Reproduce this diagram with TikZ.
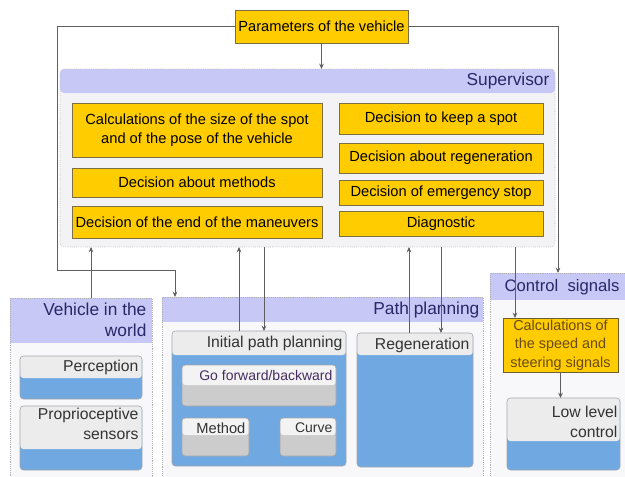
\documentclass[tikz,border=0pt]{standalone}
\usepackage{fontspec}
\setmainfont{Liberation Sans}
\usetikzlibrary{calc,arrows.meta}

\definecolor{hdrblue}{RGB}{200,200,246}
\definecolor{panelbg}{RGB}{248,248,251}
\definecolor{supbg}{RGB}{243,243,246}
\definecolor{boxyel}{RGB}{255,204,0}
\definecolor{yeldraw}{RGB}{125,110,70}
\definecolor{boxblue}{RGB}{112,168,226}
\definecolor{boxtop}{RGB}{236,236,236}
\definecolor{boxlight}{RGB}{243,243,243}
\definecolor{boxgrey}{RGB}{204,204,204}
\definecolor{titlenavy}{RGB}{40,40,105}
\definecolor{linegrey}{RGB}{95,95,95}

\tikzset{
  sz/.style 2 args={minimum width=#1*0.75pt, minimum height=#2*0.75pt},
  panel/.style={draw=gray!60, densely dotted, fill=panelbg, inner sep=0pt, outer sep=0pt,
    path picture={\fill[hdrblue] (path picture bounding box.north west) rectangle ([yshift={-#1*0.75pt}]path picture bounding box.north east);}},
  twotone/.style={draw=gray!70, rounded corners=2.5pt, fill=boxblue, inner sep=0pt, outer sep=0pt,
    path picture={\fill[boxtop] (path picture bounding box.north west) rectangle ([yshift={-#1*0.75pt}]path picture bounding box.north east);}},
  greytone/.style={draw=gray!70, rounded corners=2.5pt, fill=boxgrey, inner sep=0pt, outer sep=0pt,
    path picture={\fill[boxlight] (path picture bounding box.north west) rectangle ([yshift={-#1*0.75pt}]path picture bounding box.north east);}},
  ybox/.style={draw=yeldraw, fill=boxyel, inner sep=0pt, outer sep=0pt, align=center,
    font=\fontsize{11}{14.2}\selectfont},
  ttl/.style={text=titlenavy, inner sep=1pt, align=right, font=\fontsize{13}{15.7}\selectfont},
  lbl/.style={text=black!80, inner sep=1pt, align=right, font=\fontsize{11.8}{15.5}\selectfont},
  arr/.style={draw=linegrey, line width=0.6pt, -{Stealth[length=4pt,width=3.5pt]}}
}

\begin{document}
\begin{tikzpicture}[x=0.75pt,y=0.75pt,yscale=-1,xscale=1]
\useasboundingbox (0,0) rectangle (625,476);
\clip (0,0) rectangle (625,476);

%Shape: Panels
\node[panel=24, sz={495}{178}, fill=supbg, rounded corners=3pt] (sup) at (307.5,158) {};
\node[panel=45, sz={142}{190}] (veh) at (81,393) {};
\node[panel=25, sz={321}{190}] (pp) at (322.5,392) {};
\node[panel=27, sz={150}{215}] (ctrl) at (565,380.5) {};

% Text Node
\node[ttl, anchor=east] (supt) at ($(sup.north east)+(-4,12)$) {Supervisor};
\node[ttl, anchor=east] (veht) at ($(veh.north east)+(-4,22)$) {Vehicle in the\\world};
\node[ttl, anchor=east] (ppt) at ($(pp.north east)+(-2,13)$) {Path planning};
\node[ttl, anchor=west, font=\fontsize{12.5}{15}\selectfont] (ctrlt) at ($(ctrl.north west)+(13,14)$) {Control\ \ signals};

%Shape: Parameters
\node[ybox, sz={173}{33}] (par) at (321.5,26.5) {Parameters of the vehicle};

%Shape: Supervisor boxes
\node[ybox, sz={250}{54}] (cspot) at (197,130) {Calculations of the size of the spot\\and of the pose of the vehicle};
\node[ybox, sz={250}{29}] (dmeth) at (197,182.5) {Decision about methods};
\node[ybox, sz={250}{32}] (dend) at (197,222) {Decision of the end of the maneuvers};
\node[ybox, sz={204}{31}] (dkeep) at (441,118.5) {Decision to keep a spot};
\node[ybox, sz={204}{30}] (dregen) at (441,158) {Decision about regeneration};
\node[ybox, sz={204}{25}] (demerg) at (441,192.5) {Decision of emergency stop};
\node[ybox, sz={204}{25}] (diag) at (441,223.5) {Diagnostic};

%Shape: Vehicle in the world
\node[twotone=22, sz={122}{43}] (perc) at (81,377.5) {};
\node[twotone=43, sz={122}{64}] (prop) at (81,438) {};
\node[lbl, anchor=east] (perct) at ($(perc.north east)+(-2,11)$) {Perception};
\node[lbl, anchor=east] (propt) at ($(prop.north east)+(-2,18)$) {Proprioceptive\\sensors};

%Shape: Path planning
\node[twotone=24, sz={174}{135}] (ipp) at (259,398.5) {};
\node[twotone=22, sz={116}{134}] (regen) at (415,400) {};
\node[lbl, anchor=east] (ippt) at ($(ipp.north east)+(-2,12)$) {Initial path planning};
\node[lbl, anchor=east] (regent) at ($(regen.north east)+(-2,12)$) {Regeneration};
\node[greytone=20, sz={154}{41}] (gofb) at (259,385.5) {};
\node[greytone=17, sz={67}{38}] (meth) at (215.5,437) {};
\node[greytone=17, sz={56}{38}] (curve) at (308,437) {};
\node[lbl, anchor=east, text={rgb,255:red,70;green,45;blue,95}, font=\fontsize{10.5}{13}\selectfont] (gofbt) at ($(gofb.north east)+(-2,10)$) {Go forward/backward};
\node[lbl, anchor=east, font=\fontsize{11}{13}\selectfont] (metht) at ($(meth.north east)+(-2,10)$) {Method};
\node[lbl, anchor=east, font=\fontsize{10.5}{13}\selectfont] (curvet) at ($(curve.north east)+(-2,10)$) {Curve};

%Shape: Control signals
\node[ybox, sz={115}{54}, draw={rgb,255:red,110;green,95;blue,50}, text={rgb,255:red,105;green,75;blue,20}, font=\fontsize{10.8}{13.8}\selectfont] (calcs) at (560.5,345) {Calculations of\\the speed and\\steering signals};
\node[twotone=43, sz={113}{72}] (low) at (563.5,434) {};
\node[lbl, anchor=east] (lowt) at ($(low.north east)+(-1,24)$) {Low level\\control};

%Straight Lines
\coordinate (lft) at ($(sup.south west)+(-3,23)$);
\coordinate (ppin) at ($(pp.north west)+(13,0)$);
\coordinate (ctrlin) at ($(ctrl.north west)+(68,0)$);
\coordinate (xveh) at (91,0);
\coordinate (xipu) at (239,0);
\coordinate (xipd) at (264,0);
\coordinate (xrgu) at (409,0);
\coordinate (xrgd) at (441,0);
\coordinate (xcs) at (515,0);

\draw[arr] (par.south) -- (par.south |- sup.north);
\draw[arr] (par.west) -| (lft) -| (ppin);
\draw[arr] (par.east) -| (ctrlin);
\draw[arr] (xveh |- veh.north) -- (xveh |- sup.south);
\draw[arr] (xipu |- ipp.north) -- (xipu |- sup.south);
\draw[arr] (xipd |- sup.south) -- (xipd |- ipp.north);
\draw[arr] (xrgu |- regen.north) -- (xrgu |- sup.south);
\draw[arr] (xrgd |- sup.south) -- (xrgd |- regen.north);
\draw[arr] (xcs |- sup.south) -- (xcs |- calcs.north);
\draw[arr] (calcs.south) -- (calcs.south |- low.north);
\end{tikzpicture}
\end{document}
